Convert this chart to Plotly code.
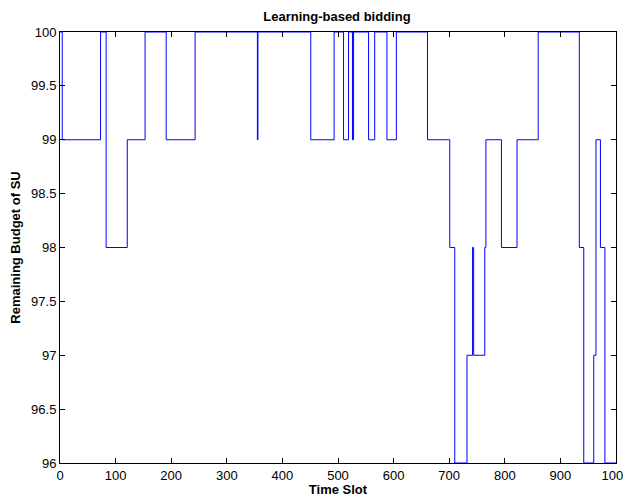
import plotly.graph_objects as go

# change points of the step series (time slot where a new value starts)
change_times = [0, 4, 73, 83, 121, 153, 191, 243, 355, 356, 451, 493, 510, 519,
                526, 528, 555, 566, 588, 605, 661, 701, 710, 732, 742, 744, 764,
                766, 794, 822, 860, 934, 942, 960, 964, 972, 980, 1000]
budget_values = [100, 99, 100, 98, 99, 100, 99, 100, 99, 100, 99, 100, 99, 100,
                 99, 100, 99, 100, 99, 100, 99, 98, 96, 97, 98, 97, 98,
                 99, 98, 99, 100, 98, 96, 97, 99, 98, 96, 96]

x_ticks = [0, 100, 200, 300, 400, 500, 600, 700, 800, 900, 1000]
y_ticks = [96, 96.5, 97, 97.5, 98, 98.5, 99, 99.5, 100]
y_tick_labels = ["96", "96.5", "97", "97.5", "98", "98.5", "99", "99.5", "100"]

font_family = "Liberation Sans, Arial, Helvetica, sans-serif"

fig = go.Figure()
fig.add_trace(go.Scatter(
    x=change_times, y=budget_values, mode="lines",
    line=dict(color="#0000ff", width=1, shape="hv"),
    showlegend=False,
))

axis_common = dict(
    showline=True, linecolor="black", linewidth=1, mirror="ticks",
    ticks="inside", ticklen=5, tickcolor="black", tickwidth=1,
    showgrid=False, zeroline=False, automargin=False,
    tickfont=dict(family=font_family, size=13, color="black"),
)

# page body adds an 8px offset, so the figure is sized to the remaining area
fig.update_layout(
    width=623, height=489,
    paper_bgcolor="white", plot_bgcolor="white",
    margin=dict(l=52, r=15, t=24, b=34),
    title=dict(text="<b>Learning-based bidding</b>", x=0.528, xanchor="center",
               y=0.982, yanchor="middle",
               font=dict(family=font_family, size=13, color="black")),
    xaxis=dict(range=[0, 1000], tickvals=x_ticks,
               title=dict(text="<b>Time Slot</b>", standoff=3,
                          font=dict(family=font_family, size=13, color="black")),
               **axis_common),
    yaxis=dict(range=[96, 100], tickvals=y_ticks, ticktext=y_tick_labels,
               title=dict(text="<b>Remaining Budget of SU</b>", standoff=9,
                          font=dict(family=font_family, size=13, color="black")),
               **axis_common),
)

fig.write_html("out.html")
